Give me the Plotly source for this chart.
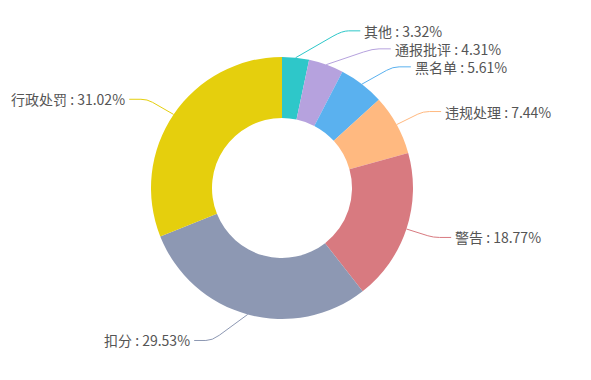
import math
import plotly.graph_objects as go

# ---- data ----
labels = ["其他", "通报批评", "黑名单", "违规处理", "警告", "扣分", "行政处罚"]
values = [3.32, 4.31, 5.61, 7.44, 18.77, 29.53, 31.02]
colors = ["#2ec7c9", "#b6a2de", "#5ab1ef", "#ffb980", "#d87a80", "#8d98b3", "#e5cf0d"]

W, H = 591, 380
CX, CY = 282, 188      # pie centre (px)
R_OUT = 131            # outer radius (px)
R_IN = 70              # inner radius (px)
R_LBL = 158            # leader elbow radius
RB = 170               # vertical semi-axis for x recalculation
LEN2 = 18              # horizontal leader length
GAP = 18               # min vertical gap between labels

def px(x):
    return x / W

def py(y):
    return 1 - y / H

fig = go.Figure()
fig.add_trace(go.Pie(
    labels=labels, values=values, sort=False, direction="clockwise", rotation=0,
    hole=R_IN / R_OUT, textinfo="none", hoverinfo="label+percent",
    marker=dict(colors=colors, line=dict(width=0)),
    domain=dict(x=[px(CX - R_OUT), px(CX + R_OUT)], y=[py(CY + R_OUT), py(CY - R_OUT)]),
    showlegend=False,
))

# ---- label layout computed from data ----
total = sum(values)
items = []
cum = 0
for lab, v, c in zip(labels, values, colors):
    mid = (cum + v / 2) / total * 2 * math.pi
    cum += v
    s, co = math.sin(mid), math.cos(mid)
    items.append(dict(lab=lab, v=v, c=c, s=s, co=co,
                      x1=CX + R_OUT * s, y1=CY - R_OUT * co,
                      y=CY - R_LBL * co, dir=1 if s >= 0 else -1))

for side in (1, -1):
    grp = sorted([it for it in items if it["dir"] == side], key=lambda d: d["y"])
    for i in range(1, len(grp)):
        if grp[i]["y"] - grp[i - 1]["y"] < GAP:
            grp[i]["y"] = grp[i - 1]["y"] + GAP

shapes = []
annotations = []
for it in items:
    dy = it["y"] - CY
    dx = R_LBL * math.sqrt(max(0.0, 1 - (dy / RB) ** 2))
    ex = CX + it["dir"] * dx
    ey = it["y"]
    x3 = ex + it["dir"] * LEN2
    mx = it["x1"] + 0.8 * (ex - it["x1"])
    my = it["y1"] + 0.8 * (ey - it["y1"])
    qx = ex + it["dir"] * 0.35 * LEN2
    path = (f"M {px(it['x1'])},{py(it['y1'])} L {px(mx)},{py(my)} "
            f"Q {px(ex)},{py(ey)} {px(qx)},{py(ey)} L {px(x3)},{py(ey)}")
    shapes.append(dict(type="path", xref="paper", yref="paper", path=path,
                       line=dict(color=it["c"], width=1)))
    annotations.append(dict(
        xref="paper", yref="paper", x=px(x3 + it["dir"] * 2), y=py(ey),
        xanchor="left" if it["dir"] > 0 else "right", yanchor="middle",
        text=f"{it['lab']} : {it['v']:.2f}%", showarrow=False,
        font=dict(size=14, color="#555555",
                  family="'Noto Sans CJK SC', 'Microsoft YaHei', sans-serif"),
    ))

fig.update_layout(
    width=W, height=H, margin=dict(l=0, r=0, t=0, b=0),
    paper_bgcolor="white", plot_bgcolor="white",
    shapes=shapes, annotations=annotations,
)

fig.write_html("out.html", config={"displayModeBar": False},
               post_script="document.body.style.margin='0px';")
